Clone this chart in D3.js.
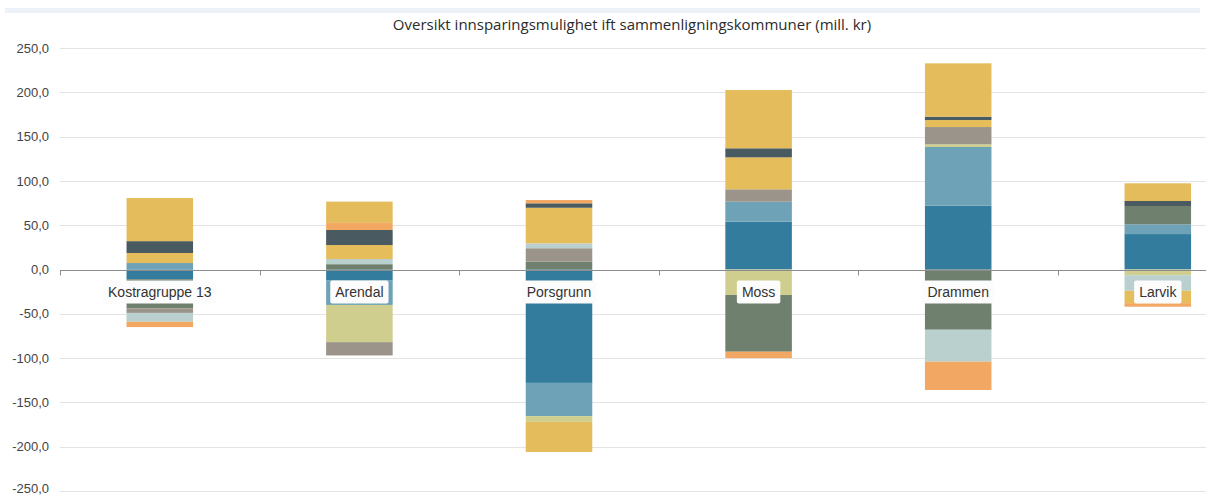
<!DOCTYPE html>
<html>
<head>
  <meta charset="utf-8">
  <title>Oversikt innsparingsmulighet</title>
  <style>
    body { margin: 0; background: #fff; }
    svg { display: block; }
  </style>
</head>
<body>
  <script src="https://cdnjs.cloudflare.com/ajax/libs/d3/7.8.5/d3.min.js"></script>
  <script>
    // categories and tick values
    var kommuner = ["Kostragruppe 13", "Arendal", "Porsgrunn", "Moss", "Drammen", "Larvik"];
    var yTicks = [-250, -200, -150, -100, -50, 0, 50, 100, 150, 200, 250];

    // series values (mill. kr), one value per kommune
    var serie1 = [-11, -12, -128, 54, 72, 40];
    var serie2 = [7.3, -28, -37.5, 22.5, 66.3, 11];
    var serie3 = [0, -42, -6.5, -28.8, 3, -6.5];
    var serie4 = [-33, 6, 8.8, -64, -68, 20.7];
    var serie5 = [-5, -15, 15.2, 14, 19.5, 0];
    var serie6 = [-10, 5.8, 5.5, 0, -36, -17.5];
    var serie7 = [11.3, 15.8, 40.2, 36.1, 7.9, -14];
    var serie8 = [13.4, 17, 5, 10.2, 3.8, 5.6];
    var serie9 = [-6, 8, 3.7, -7.2, -32, -4];
    var serie10 = [48.7, 24, -34, 65.8, 60.2, 20];

    var seriesNames = ["Serie 1", "Serie 2", "Serie 3", "Serie 4", "Serie 5",
                       "Serie 6", "Serie 7", "Serie 8", "Serie 9", "Serie 10"];
    var seriesValues = [serie1, serie2, serie3, serie4, serie5, serie6, serie7, serie8, serie9, serie10];
    var colors = ["#337c9d", "#6ea2b7", "#cfce8f", "#6f806e", "#9b948a",
                  "#b9d0cf", "#e6bd5b", "#4a5a61", "#f2a862", "#e5bc5c"];

    var width = 1206, height = 497;
    var svg = d3.select("body").append("svg")
      .attr("width", width)
      .attr("height", height)
      .style("font-family", "'Liberation Sans', Arial, sans-serif");

    // table for d3.stack
    var table = kommuner.map(function (k, i) {
      var row = { kommune: k };
      seriesNames.forEach(function (s, j) { row[s] = seriesValues[j][i]; });
      return row;
    });

    var stacked = d3.stack()
      .keys(seriesNames)
      .offset(d3.stackOffsetDiverging)(table);

    var x = d3.scaleBand().domain(kommuner).range([60, 1257.6]).padding(0);
    var y = d3.scaleLinear().domain([-250, 250]).range([491, 48]);

    var nb = d3.formatLocale({ decimal: ",", thousands: " ", grouping: [3], currency: ["", " kr"], minus: "-" });
    var fmt = nb.format(".1f");

    // light band at the very top
    svg.append("rect")
      .attr("x", 5).attr("y", 8)
      .attr("width", 1195).attr("height", 5)
      .attr("fill", "#edf2f9");

    // title
    svg.append("text")
      .attr("x", 632).attr("y", 30)
      .attr("text-anchor", "middle")
      .attr("fill", "#2b2b2b")
      .style("font-family", "'Open Sans', sans-serif")
      .style("font-size", "15px")
      .text("Oversikt innsparingsmulighet ift sammenligningskommuner (mill. kr)");

    // grid
    svg.append("g").attr("class", "grid")
      .selectAll("line")
      .data(yTicks.filter(function (d) { return d !== 0; }))
      .enter().append("line")
      .attr("x1", 60).attr("x2", 1206)
      .attr("y1", function (d) { return Math.round(y(d)) + 0.5; })
      .attr("y2", function (d) { return Math.round(y(d)) + 0.5; })
      .attr("stroke", "#e3e3e3");

    // y axis labels
    var yAxis = svg.append("g")
      .attr("transform", "translate(52,0)")
      .call(d3.axisLeft(y).tickValues(yTicks).tickFormat(fmt).tickSize(0).tickPadding(3));
    yAxis.select(".domain").remove();
    yAxis.selectAll("text")
      .attr("fill", "#444")
      .style("font-family", "'Liberation Sans', Arial, sans-serif")
      .style("font-size", "13px");
    // keep the lowest label inside the picture
    yAxis.selectAll(".tick")
      .filter(function (d) { return d === -250; })
      .select("text").attr("y", -3);

    // bars
    svg.append("g").attr("class", "bars")
      .selectAll("g")
      .data(stacked)
      .enter().append("g")
      .attr("fill", function (d, i) { return colors[i]; })
      .selectAll("rect")
      .data(function (d) { return d; })
      .enter().append("rect")
      .attr("x", function (d) { return x(d.data.kommune) + x.bandwidth() / 3; })
      .attr("width", x.bandwidth() / 3)
      .attr("y", function (d) { return y(Math.max(d[0], d[1])); })
      .attr("height", function (d) { return Math.abs(y(d[0]) - y(d[1])); });

    // zero axis with ticks at band edges
    var zeroY = Math.round(y(0)) + 0.5;
    svg.append("line")
      .attr("x1", 60).attr("x2", 1206)
      .attr("y1", zeroY).attr("y2", zeroY)
      .attr("stroke", "#8c8c8c");
    svg.append("g").selectAll("line")
      .data(kommuner)
      .enter().append("line")
      .attr("x1", function (d) { return Math.round(x(d)) + 0.5; })
      .attr("x2", function (d) { return Math.round(x(d)) + 0.5; })
      .attr("y1", zeroY).attr("y2", zeroY + 5)
      .attr("stroke", "#8c8c8c");

    // category labels with white box over the bars
    var labels = svg.append("g").attr("class", "labels")
      .selectAll("g")
      .data(kommuner)
      .enter().append("g")
      .attr("transform", function (d) { return "translate(" + (x(d) + x.bandwidth() / 2) + ",292)"; });

    labels.append("rect").attr("class", "box");
    labels.append("text")
      .attr("text-anchor", "middle")
      .attr("dy", "0.35em")
      .attr("fill", "#333")
      .style("font-size", "14px")
      .text(function (d) { return d; });

    labels.each(function () {
      var g = d3.select(this);
      var w = g.select("text").node().getComputedTextLength();
      g.select("rect")
        .attr("x", -w / 2 - 5).attr("y", -11.5)
        .attr("width", w + 10).attr("height", 23)
        .attr("rx", 2)
        .attr("fill", "#fcfcfc");
    });
  </script>
</body>
</html>
